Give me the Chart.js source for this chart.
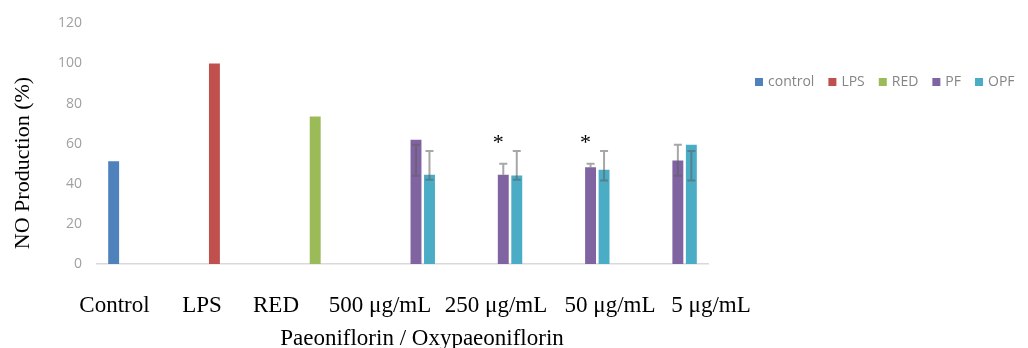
<!DOCTYPE html>
<html>
<head>
<meta charset="utf-8">
<script src="https://cdn.jsdelivr.net/npm/chart.js@4.4.1/dist/chart.umd.min.js"></script>
<style>
html,body{margin:0;padding:0;background:#fff;}
#wrap{width:1028px;height:348px;position:relative;}
</style>
</head>
<body>
<div id="wrap"><canvas id="c"></canvas></div>
<script>
// ---- data ----
const categories = ["Control", "LPS", "RED", "500 μg/mL", "250 μg/mL", "50 μg/mL", "5 μg/mL"];
const seriesNames = ["control", "LPS", "RED", "PF", "OPF"];
const controlValues = [51.3, null, null, null, null, null, null];
const lpsValues     = [null, 100, null, null, null, null, null];
const redValues     = [null, null, 73.6, null, null, null, null];
const pfValues      = [null, null, null, 62.0, 44.5, 48.3, 51.6];
const opfValues     = [null, null, null, 44.5, 44.2, 47.0, 59.5];
const pfErrHigh     = [null, null, null, 59.5, 50.0, 50.0, 59.5];
const pfErrLow      = [null, null, null, 44.0, 44.5, 48.3, 44.0];
const opfErrHigh    = [null, null, null, 56.3, 56.3, 56.3, 56.3];
const opfErrLow     = [null, null, null, 42.0, 42.0, 41.6, 41.6];
const pfSignificance = [null, null, null, null, "*", "*", null];
const yTicks = [0, 20, 40, 60, 80, 100, 120];
const yTitle = "NO Production (%)";
const xSubtitle = "Paeoniflorin / Oxypaeoniflorin";

// ---- layout / style (not data) ----
const colors = ["#4F81BD", "#C0504D", "#9BBB59", "#8064A2", "#4BACC6"];
const xLabelCenters = [114.5, 202, 276, 380, 496, 610, 711];

const errorBarPlugin = {
  id: 'errorBars',
  afterDatasetsDraw(chart) {
    const ctx = chart.ctx, y = chart.scales.y;
    const sets = [[3, pfErrLow, pfErrHigh], [4, opfErrLow, opfErrHigh]];
    ctx.save();
    ctx.strokeStyle = 'rgba(95,95,95,0.55)';
    ctx.lineWidth = 2;
    sets.forEach(([di, lo, hi]) => {
      const meta = chart.getDatasetMeta(di);
      meta.data.forEach((el, i) => {
        if (hi[i] == null) return;
        const x = el.x, yh = y.getPixelForValue(hi[i]), yl = y.getPixelForValue(lo[i]);
        ctx.beginPath();
        ctx.moveTo(x, yh); ctx.lineTo(x, yl);
        ctx.moveTo(x - 4, yh); ctx.lineTo(x + 4, yh);
        if (Math.abs(yl - y.getPixelForValue(chart.data.datasets[di].data[i])) > 1) {
          ctx.moveTo(x - 4, yl); ctx.lineTo(x + 4, yl);
        }
        ctx.stroke();
      });
    });
    // significance marks
    ctx.fillStyle = '#000';
    ctx.font = '22px "Liberation Serif", "Times New Roman", serif';
    ctx.textAlign = 'center';
    ctx.textBaseline = 'alphabetic';
    const meta = chart.getDatasetMeta(3);
    meta.data.forEach((el, i) => {
      if (!pfSignificance[i]) return;
      ctx.fillText(pfSignificance[i], el.x - 5, y.getPixelForValue(pfErrHigh[i]) - 15);
    });
    ctx.restore();
  }
};

const textPlugin = {
  id: 'texts',
  afterDraw(chart) {
    const ctx = chart.ctx, area = chart.chartArea;
    ctx.save();
    ctx.fillStyle = '#000';
    ctx.font = '23px "Liberation Serif", "Times New Roman", serif';
    ctx.textAlign = 'center';
    ctx.textBaseline = 'alphabetic';
    categories.forEach((c, i) => ctx.fillText(c, xLabelCenters[i], 312));
    ctx.fillText(xSubtitle, 422, 345);
    // y title
    ctx.translate(23, 163);
    ctx.rotate(-Math.PI / 2);
    ctx.font = '22px "Liberation Serif", "Times New Roman", serif';
    ctx.textBaseline = 'middle';
    ctx.fillText(yTitle, 0, 0);
    ctx.restore();

    // legend
    ctx.save();
    ctx.font = '14px "Open Sans", sans-serif';
    ctx.textBaseline = 'middle';
    ctx.textAlign = 'left';
    let x = area.right + 47;
    const ly = 82;
    chart.data.datasets.forEach((ds) => {
      ctx.fillStyle = ds.backgroundColor;
      ctx.fillRect(x, ly - 4, 8, 8);
      ctx.fillStyle = '#858585';
      ctx.fillText(ds.label, x + 13, ly);
      x += 13 + ctx.measureText(ds.label).width + 14;
    });
    ctx.restore();
  }
};

const seriesData = [controlValues, lpsValues, redValues, pfValues, opfValues];

new Chart(document.getElementById('c'), {
  type: 'bar',
  data: {
    labels: categories,
    datasets: seriesNames.map((n, i) => ({
      label: n,
      data: seriesData[i],
      backgroundColor: colors[i],
      borderWidth: 0,
      categoryPercentage: 0.773,
      barPercentage: 0.81
    }))
  },
  options: {
    responsive: true,
    maintainAspectRatio: false,
    animation: false,
    layout: { padding: { left: 0, right: 320, top: 23, bottom: 0 } },
    plugins: { legend: { display: false }, tooltip: { enabled: false } },
    scales: {
      x: {
        grid: { display: false, drawTicks: false },
        border: { display: true, color: '#d9d9d9', width: 1.5 },
        ticks: { display: false },
        afterFit(s) { s.height = 84; }
      },
      y: {
        min: 0, max: 120,
        afterBuildTicks(s) { s.ticks = yTicks.map(v => ({ value: v })); },
        grid: { display: false, drawTicks: false },
        border: { display: false },
        ticks: {
          color: '#a0a0a0',
          padding: 15,
          font: { family: '"Open Sans", sans-serif', size: 14 }
        },
        afterFit(s) { s.width = 97; }
      }
    }
  },
  plugins: [errorBarPlugin, textPlugin]
});
</script>
</body>
</html>
